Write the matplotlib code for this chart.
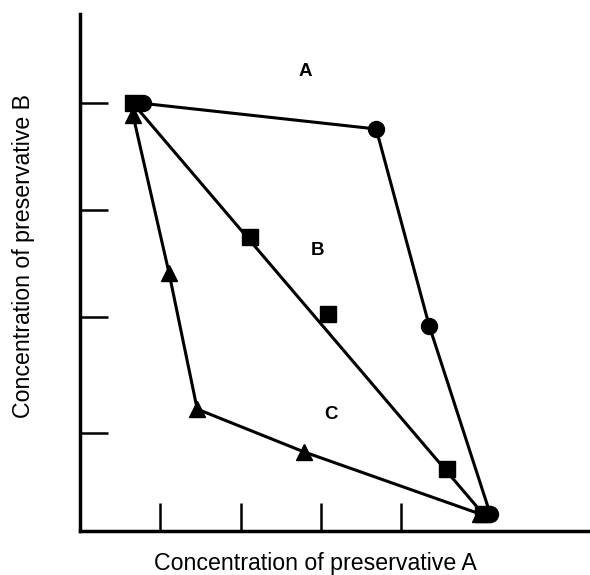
import matplotlib.pyplot as plt

plt.rcParams["font.family"] = ["Liberation Sans", "DejaVu Sans"]

# region A boundary (circles)
circle_x = [0.78, 3.69, 4.35, 5.11]
circle_y = [4.00, 3.76, 1.92, 0.16]

# region B boundary (squares, straight line through the end points)
square_x = [0.66, 2.12, 3.09, 4.57, 5.02]
square_y = [4.00, 2.75, 2.03, 0.58, 0.16]

# region C boundary (triangles)
tri_x = [0.66, 1.11, 1.46, 2.79, 4.98]
tri_y = [3.89, 2.41, 1.14, 0.74, 0.16]

region_labels = ["A", "B", "C"]
region_x = [2.81, 2.96, 3.13]
region_y = [4.30, 2.62, 1.09]

x_ticks = [1, 2, 3, 4]
y_ticks = [0.92, 2.0, 3.0, 4.0]

fig = plt.figure(figsize=(5.9, 5.75), dpi=100)
ax = fig.add_axes([0.1356, 0.0765, 0.864, 0.9])

lw = 2.2
ax.plot(tri_x, tri_y, color='black', lw=lw, marker='^', ms=12, zorder=3)
ax.plot(circle_x, circle_y, color='black', lw=lw, marker='o', ms=11.5, zorder=4)
ax.plot([square_x[0], square_x[-1]], [square_y[0], square_y[-1]], color='black', lw=lw, zorder=3)
ax.plot(square_x, square_y, color='black', lw=0, marker='s', ms=12, zorder=5)

for lab, x, y in zip(region_labels, region_x, region_y):
    ax.text(x, y, lab, fontsize=13.5, fontweight='bold', ha='center', va='center')

ax.set_xlim(0, 6.35)
ax.set_ylim(0, 4.84)
ax.set_xticks(x_ticks)
ax.set_yticks(y_ticks)
ax.set_xticklabels([])
ax.set_yticklabels([])
ax.tick_params(direction='in', length=20, width=1.8)

for side in ['top', 'right']:
    ax.spines[side].set_visible(False)
for side in ['left', 'bottom']:
    ax.spines[side].set_linewidth(2.5)

ax.set_xlabel('Concentration of preservative A', fontsize=16.7)
ax.set_ylabel('Concentration of preservative B', fontsize=16.7)
ax.xaxis.set_label_coords(0.461, -0.04)
ax.yaxis.set_label_coords(-0.088, 0.532)

plt.savefig('out.png')
